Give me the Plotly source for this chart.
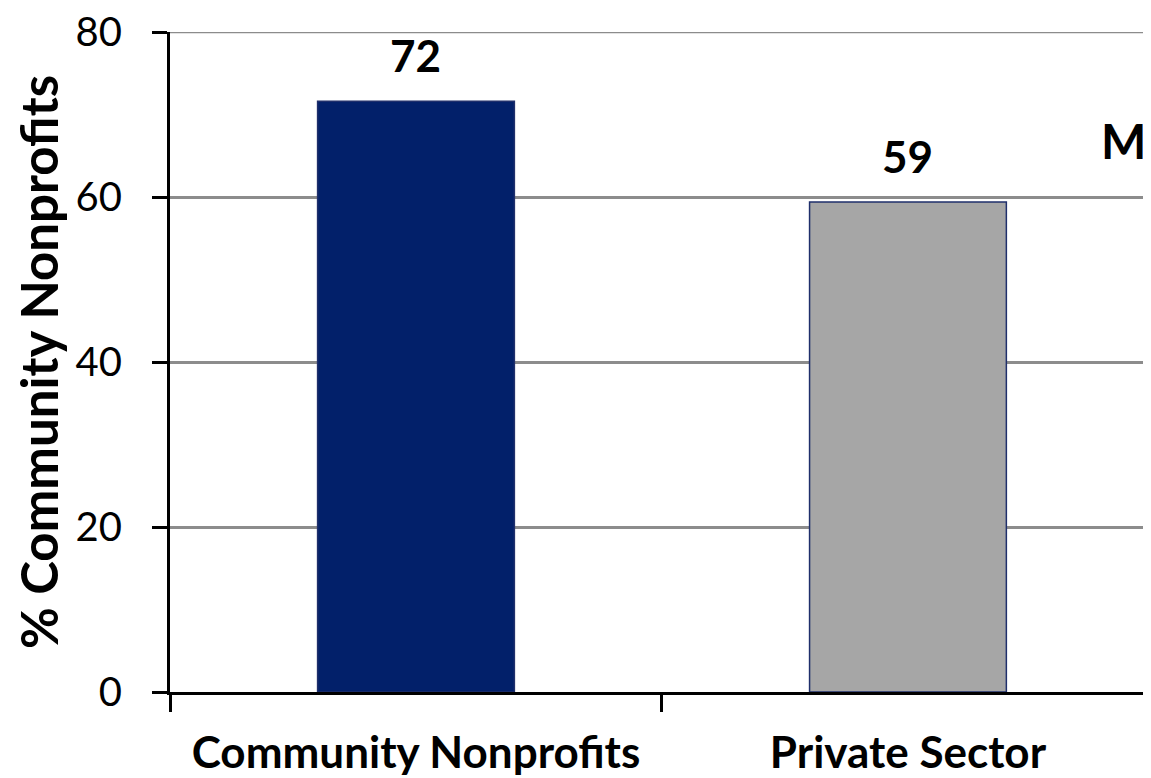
import plotly.graph_objects as go

categories = ["Community Nonprofits", "Private Sector"]
values = [71.6, 59.4]
labels = ["72", "59"]
bar_colors = ["#02206A", "#A6A6A6"]
y_ticks = [0, 20, 40, 60, 80]

FONT = "Lato"
GRID = "#8C8C8C"

fig = go.Figure()
fig.add_trace(go.Bar(
    x=categories, y=values,
    marker=dict(color=bar_colors, line=dict(color="#1F2F6B", width=1.5)),
    width=0.40,
    hoverinfo="skip",
))

for cat, val, lab in zip(categories, values, labels):
    fig.add_annotation(
        x=cat, y=val, text=lab, showarrow=False,
        xanchor="center", yanchor="bottom", yshift=18,
        font=dict(family=FONT, size=44, color="black", weight="bold"),
    )

# top gridline (Plotly skips the gridline on the range edge)
fig.add_shape(type="line", xref="paper", x0=0, x1=1, yref="y",
              y0=y_ticks[-1], y1=y_ticks[-1],
              line=dict(color=GRID, width=2.5), layer="below")

fig.update_layout(
    width=1143, height=770,
    margin=dict(l=162, r=0, t=24, b=86),
    plot_bgcolor="white", paper_bgcolor="white",
    showlegend=False,
    font=dict(family=FONT, color="black"),
    xaxis=dict(
        type="category", range=[-0.5, 1.494], automargin=False,
        showline=True, linecolor="black", linewidth=3,
        ticks="outside", tickson="boundaries", ticklen=17, tickwidth=2.5, tickcolor="black",
        tickfont=dict(family=FONT, size=44, color="black", weight="bold"),
        ticklabelstandoff=20,
        showgrid=False,
    ),
    yaxis=dict(
        range=[0, 80], tickvals=y_ticks, automargin=False,
        showline=True, linecolor="black", linewidth=3,
        ticks="outside", ticklen=15, tickwidth=2.5, tickcolor="black",
        tickfont=dict(family=FONT, size=40, color="black"),
        ticklabelstandoff=22, ticklabeloverflow="allow",
        gridcolor=GRID, gridwidth=2.5,
        zeroline=False,
        title=dict(text="% Community Nonprofits", standoff=16,
                   font=dict(family=FONT, size=51, color="black", weight="bold")),
    ),
)

fig.add_annotation(
    text="M", xref="paper", yref="paper", x=0.947, y=0.835,
    xanchor="left", yanchor="middle", showarrow=False,
    font=dict(family=FONT, size=48, color="black", weight="bold"),
)

fig.write_html("out.html")
